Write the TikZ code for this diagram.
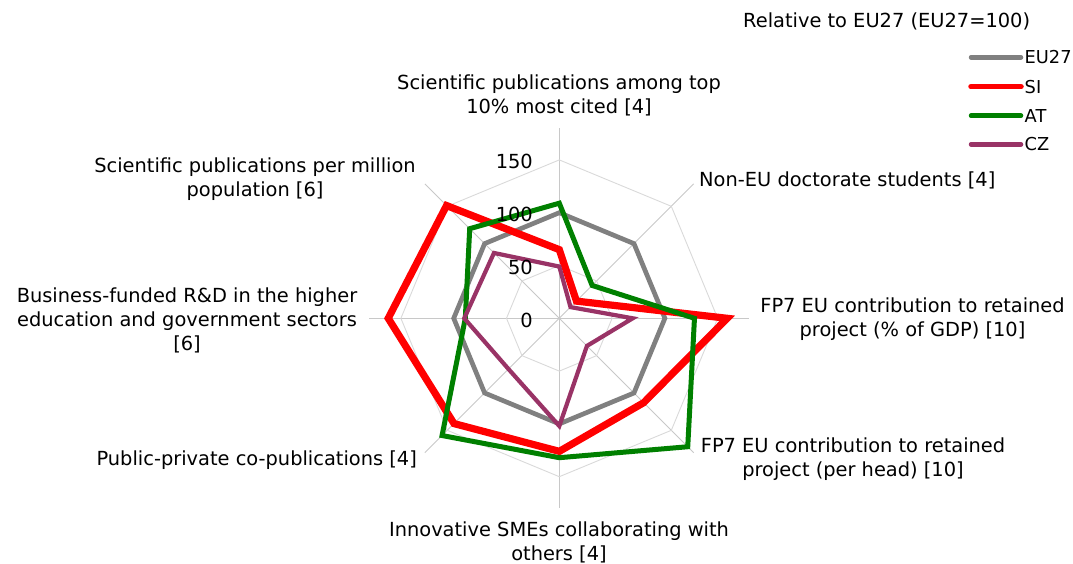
\documentclass[tikz,border=0pt]{standalone}
\usepackage{fontspec}
\setmainfont{DejaVu Sans}
\definecolor{cEU}{RGB}{128,128,128}
\definecolor{cSI}{RGB}{255,0,0}
\definecolor{cAT}{RGB}{0,128,0}
\definecolor{cCZ}{RGB}{153,51,102}
\definecolor{cGrid}{RGB}{217,217,217}
\definecolor{cSpoke}{RGB}{200,200,200}
\begin{document}
\begin{tikzpicture}[x=1pt,y=-1pt,
  every node/.style={inner sep=0pt, font=\fontsize{19.4}{24}\selectfont},
  gridline/.style={draw=cGrid, line width=0.9pt},
  spokeline/.style={draw=cSpoke, line width=0.9pt},
  series/.style={line join=miter, miter limit=10},
  euline/.style={series, draw=cEU, line width=4.7pt},
  siline/.style={series, draw=cSI, line width=7.2pt},
  atline/.style={series, draw=cAT, line width=5pt},
  czline/.style={series, draw=cCZ, line width=4.2pt},
  ticklbl/.style={anchor=east},
  axislbl/.style={align=center},
  legtext/.style={anchor=west, font=\fontsize{17.8}{22}\selectfont}]
\useasboundingbox (0,0) rectangle (1073,564);
\coordinate (C) at (559.3,318.3);
\begin{scope}[shift={(C)}, x=1.056pt, y=-1.056pt]
  % spokes
  \foreach \a in {-90,-45,0,45,90,135,180,225}
    \draw[spokeline] (0,0) -- (\a:180);
  % grid octagons
  \foreach \r in {50,100,150}
    \draw[gridline] (-90:\r) -- (-45:\r) -- (0:\r) -- (45:\r) -- (90:\r) -- (135:\r) -- (180:\r) -- (225:\r) -- cycle;
  % series
  \draw[euline] (-90:100) -- (-45:100) -- (0:100) -- (45:100) -- (90:100) -- (135:100) -- (180:100) -- (225:100) -- cycle;
  \draw[siline] (-90:65) -- (-45:23) -- (0:159) -- (45:113) -- (90:126) -- (135:141) -- (180:162) -- (225:151) -- cycle;
  \draw[atline] (-90:109) -- (-45:44) -- (0:128) -- (45:172) -- (90:132) -- (135:157) -- (180:89) -- (225:120) -- cycle;
  \draw[czline] (-90:49) -- (-45:15) -- (0:69.5) -- (45:37) -- (90:102) -- (135:68) -- (180:90) -- (225:87.5) -- cycle;
\end{scope}
% tick labels
\node[ticklbl] (t150) at (533,161.7) {150};
\node[ticklbl] (t100) at (533,214) {100};
\node[ticklbl] (t50) at (533,267.5) {50};
\node[ticklbl] (t0) at (533,320) {0};
% axis labels
\node[axislbl] (l1) at (559,95) {Scientific publications among top\\10\% most cited [4]};
\node[anchor=west] (l2) at (699,180) {Non-EU doctorate students [4]};
\node[axislbl] (l3) at (912.5,319) {FP7 EU contribution to retained\\project (\% of GDP) [10]};
\node[axislbl] (l4) at (853,459) {FP7 EU contribution to retained\\project (per head) [10]};
\node[axislbl] (l5) at (559,542) {Innovative SMEs collaborating with\\others [4]};
\node[anchor=east] (l6) at (417,460) {Public-private co-publications [4]};
\node[axislbl] (l7) at (187,320) {Business-funded R\&D in the higher\\education and government sectors\\{[6]}};
\node[axislbl] (l8) at (255,179) {Scientific publications per million\\population [6]};
% legend
\node[anchor=west] (lt) at (743,21) {Relative to EU27 (EU27=100)};
\coordinate (e1a) at (971,57.3); \coordinate (e1b) at (1021,57.3);
\coordinate (e2a) at (971,86.7); \coordinate (e2b) at (1021,86.7);
\coordinate (e3a) at (971,115.7); \coordinate (e3b) at (1021,115.7);
\coordinate (e4a) at (971,144.3); \coordinate (e4b) at (1021,144.3);
\draw[draw=cEU, line width=4.5pt, line cap=round] (e1a) -- (e1b);
\draw[draw=cSI, line width=5.5pt, line cap=round] (e2a) -- (e2b);
\draw[draw=cAT, line width=4.5pt, line cap=round] (e3a) -- (e3b);
\draw[draw=cCZ, line width=4.5pt, line cap=round] (e4a) -- (e4b);
\node[legtext] (n1) at (1024.5,57.3) {EU27};
\node[legtext] (n2) at (1024.5,86.7) {SI};
\node[legtext] (n3) at (1024.5,115.7) {AT};
\node[legtext] (n4) at (1024.5,144.3) {CZ};
\end{tikzpicture}
\end{document}
